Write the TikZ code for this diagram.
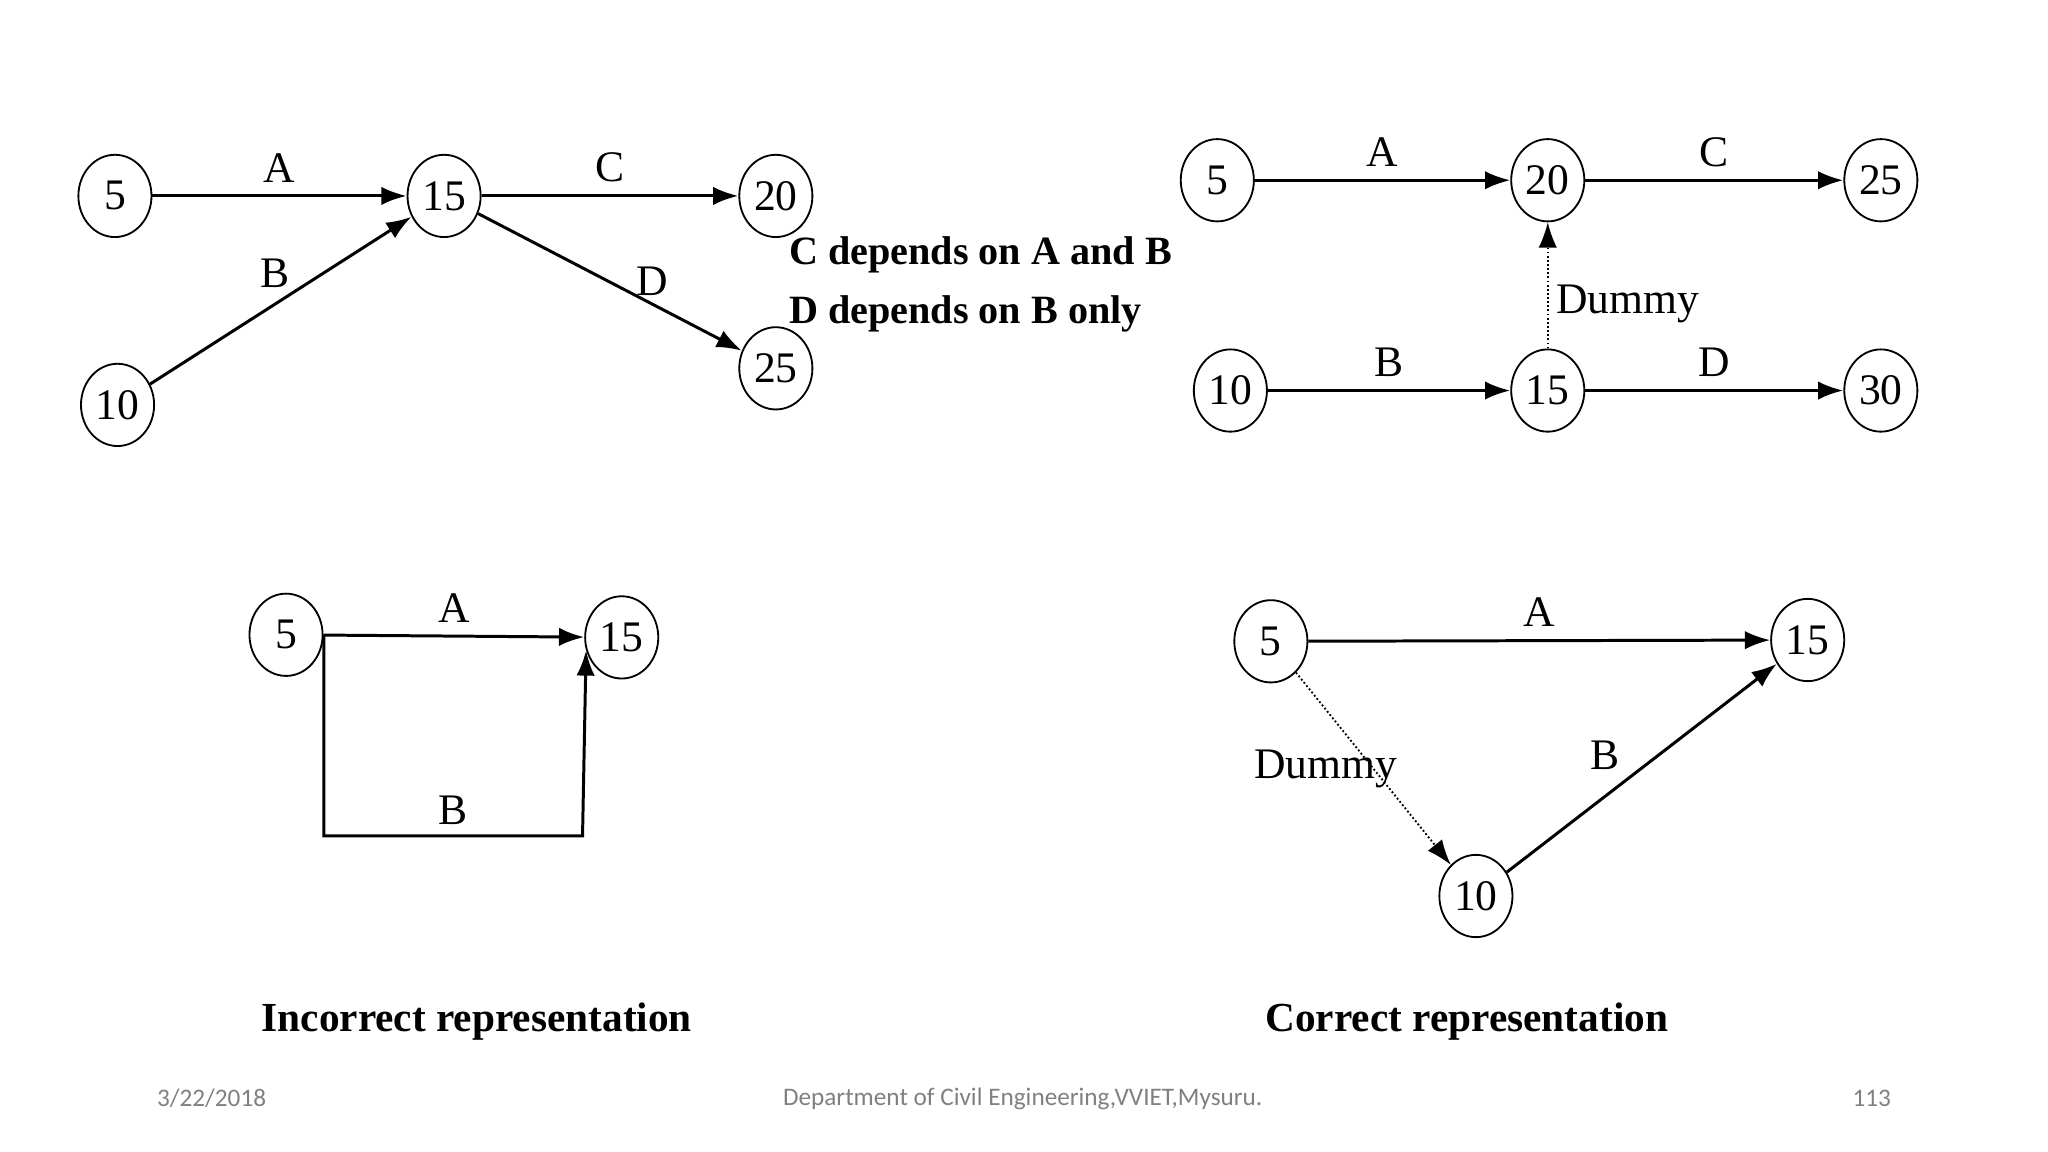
\documentclass[tikz,border=0pt]{standalone}
\usepackage{fontspec}
\setmainfont{Liberation Serif}
\newfontfamily\foot{Carlito}
\usetikzlibrary{shapes.geometric,arrows.meta}
\begin{document}
\begin{tikzpicture}[x=0.02cm,y=-0.02cm,
 ev/.style={ellipse,draw,thick,minimum width=1.12cm,minimum height=1.26cm,inner sep=0pt,font=\fontsize{19}{20}\selectfont},
 ar/.style={-{Latex[length=11pt,width=8pt]},line width=1.3pt},
 dm/.style={-{Latex[length=11pt,width=8pt]},densely dotted,line width=0.8pt},
 lb/.style={font=\fontsize{19}{20}\selectfont},
 bt/.style={font=\fontsize{17.5}{20}\selectfont\bfseries},
 ft/.style={font=\foot\fontsize{11}{12}\selectfont,text=gray}]
\useasboundingbox (0,0) rectangle (1568,882);
% top left
\node[ev] (a5) at (88,150) {5};
\node[ev] (a15) at (340,150) {15};
\node[ev] (a20) at (594,150) {20};
\node[ev] (a10) at (90,310) {10};
\node[ev] (a25) at (594,282) {25};
\draw[ar] (a5) -- node[lb,above=2pt]{A} (a15);
\draw[ar] (a10) -- node[lb,pos=0.55,above left=-2pt]{B} (a15);
\draw[ar] (a15) -- node[lb,pos=0.6,above right=-4pt]{D} (a25);
\draw[ar] (a15) -- node[lb,above=2pt]{C} (a20);
\node[bt,anchor=west] (t1) at (598,195) {C depends on A and B};
\node[bt,anchor=west] (t2) at (598,240) {D depends on B only};
% top right
\node[ev] (b5) at (932,138) {5};
\node[ev] (b20) at (1185,138) {20};
\node[ev] (b25) at (1440,138) {25};
\node[ev] (b10) at (942,299) {10};
\node[ev] (b15) at (1185,299) {15};
\node[ev] (b30) at (1440,299) {30};
\draw[ar] (b5) -- node[lb,above=2pt]{A} (b20);
\draw[ar] (b20) -- node[lb,above=2pt]{C} (b25);
\draw[ar] (b10) -- node[lb,above=2pt]{B} (b15);
\draw[ar] (b15) -- node[lb,above=2pt]{D} (b30);
\draw[dm] (b15) -- node[lb,right=0pt,pos=0.35]{Dummy} (b20);
% bottom left
\node[ev] (c5) at (219,486) {5};
\node[ev] (c15) at (476,488) {15};
\draw[ar] (c5) -- node[lb,above=2pt]{A} (c15);
\coordinate (p0) at (248,486);
\coordinate (p1) at (248,640);
\coordinate (p2) at (446,640);
\draw[ar] (p0) -- (p1) -- node[lb,above=1pt]{B} (p2) -- (c15.200);
\node[bt,font=\fontsize{18}{20}\selectfont\bfseries] (cap1) at (365,782) {Incorrect representation};
% bottom right
\node[ev] (d5) at (973,491) {5};
\node[ev] (d15) at (1384,490) {15};
\node[ev] (d10) at (1130,686) {10};
\draw[ar] (d5) -- node[lb,above=2pt]{A} (d15);
\draw[ar] (d10) -- node[lb,pos=0.45,above left=0pt]{B} (d15);
\draw[dm] (d5) -- node[lb,left=-14pt,pos=0.5]{Dummy} (d10);
\node[bt,font=\fontsize{18}{20}\selectfont\bfseries] (cap2) at (1123,782) {Correct representation};
% footer
\node[ft] (f1) at (162,841) {3/22/2018};
\node[ft] (f2) at (783,841) {Department of Civil Engineering,VVIET,Mysuru.};
\node[ft] (f3) at (1433,841) {113};
\end{tikzpicture}
\end{document}
